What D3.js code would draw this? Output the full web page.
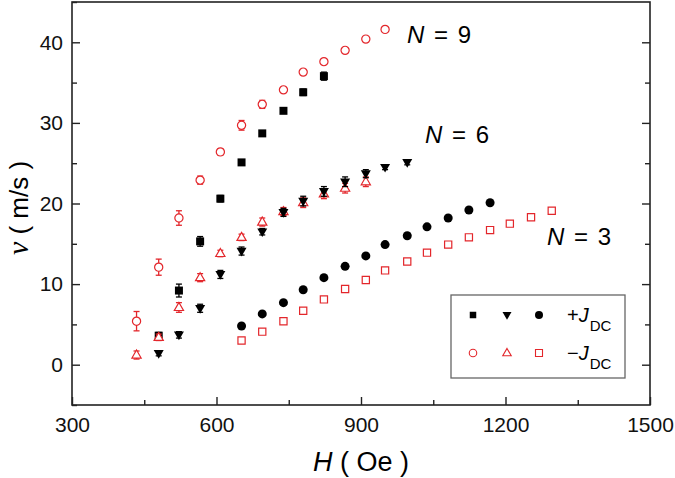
<!DOCTYPE html>
<html><head><meta charset="utf-8">
<script src="https://cdn.jsdelivr.net/npm/d3@7"></script>
<style>body{margin:0;background:#fff} svg{display:block}</style>
</head><body>
<svg id="c" width="675" height="478"></svg>
<script>
// ---- data ----
const fieldH = [434,480,522,566,608,652,695,739,780,823,867,910,950,996,1037,1081,1124,1168,1209,1253,1296];

const n9PlusV   = [3.6, 9.2, 15.3, 20.6, 25.1, 28.7, 31.5, 33.8, 35.8];
const n9PlusErr = [0.4, 0.8, 0.6, 0.4, 0.3, 0.3, 0.3, 0.4, 0.5];
const n9MinusV   = [5.4, 12.1, 18.2, 22.9, 26.4, 29.7, 32.3, 34.1, 36.3, 37.6, 39.0, 40.4, 41.6];
const n9MinusErr = [1.2, 1.0, 0.9, 0.5, 0.4, 0.6, 0.5, 0.3, 0.3, 0.3, 0.3, 0.2, 0.2];

const n6PlusV   = [1.4, 3.7, 7.0, 11.2, 14.1, 16.5, 18.9, 20.3, 21.5, 22.7, 23.7, 24.5, 25.1];
const n6PlusErr = [0.3, 0.4, 0.5, 0.5, 0.5, 0.4, 0.5, 0.6, 0.6, 0.6, 0.5, 0.3, 0.3];
const n6MinusV   = [1.2, 3.4, 7.1, 10.8, 13.8, 15.8, 17.7, 19.0, 20.1, 21.2, 21.9, 22.7];
const n6MinusErr = [0.5, 0.4, 0.6, 0.5, 0.4, 0.4, 0.5, 0.5, 0.6, 0.6, 0.6, 0.6];

const n3PlusV  = [4.8, 6.3, 7.7, 9.3, 10.8, 12.2, 13.5, 14.9, 16.0, 17.1, 18.2, 19.2, 20.1];
const n3MinusV = [3.0, 4.1, 5.4, 6.7, 8.1, 9.4, 10.5, 11.7, 12.8, 13.9, 14.9, 15.8, 16.7, 17.5, 18.3, 19.1];

const xTicks = [300, 600, 900, 1200, 1500];
const yTicks = [0, 10, 20, 30, 40];
const curveLabels = ["9", "6", "3"];
const legendLabels = ["+", "\u2212"];

// ---- styles ----
const RED = "#e3262b", BLACK = "#000";
const svg = d3.select("#c");
const x = d3.scaleLinear([300, 1500], [72, 650]);
const y = d3.scaleLinear([-5, 45], [405, 2]);

const series = [
  {H: fieldH.slice(1, 1 + n9PlusV.length), v: n9PlusV, err: n9PlusErr, shape: "square", fill: true, color: BLACK},
  {H: fieldH.slice(0, n9MinusV.length), v: n9MinusV, err: n9MinusErr, shape: "circle", fill: false, color: RED},
  {H: fieldH.slice(0, n6MinusV.length), v: n6MinusV, err: n6MinusErr, shape: "triUp", fill: false, color: RED},
  {H: fieldH.slice(1, 1 + n6PlusV.length), v: n6PlusV, err: n6PlusErr, shape: "triDown", fill: true, color: BLACK},
  {H: fieldH.slice(5, 5 + n3MinusV.length), v: n3MinusV, err: null, shape: "square", fill: false, color: RED},
  {H: fieldH.slice(5, 5 + n3PlusV.length), v: n3PlusV, err: null, shape: "circle", fill: true, color: BLACK},
];

function symPath(shape, s) {
  if (shape === "square") return d3.symbol(d3.symbolSquare, s * s)();
  if (shape === "circle") return d3.symbol(d3.symbolCircle, Math.PI * s * s / 4)();
  const h = s * 0.87, a = s / 2;
  if (shape === "triUp") return `M0,${-h*0.62}L${a},${h*0.38}L${-a},${h*0.38}Z`;
  return `M0,${h*0.62}L${a},${-h*0.38}L${-a},${-h*0.38}Z`;
}
const sizeOf = {square: 8, circle: 9, triUp: 10, triDown: 10};

// frame
svg.append("rect").attr("x", 72).attr("y", 2).attr("width", 650 - 72).attr("height", 405 - 2)
  .attr("fill", "none").attr("stroke", "#222").attr("stroke-width", 1.6);

// axes
const fontTick = "'Liberation Sans', Arial, sans-serif";
const gx = svg.append("g").attr("transform", "translate(0,405)")
  .call(d3.axisBottom(x).tickValues(xTicks).tickSizeInner(-8).tickSizeOuter(0).tickPadding(12).tickFormat(d3.format("d")));
const gxm = svg.append("g").attr("transform", "translate(0,405)")
  .call(d3.axisBottom(x).tickValues([450, 750, 1050, 1350]).tickSizeInner(-5).tickSizeOuter(0).tickFormat(""));
const gy = svg.append("g").attr("transform", "translate(72,0)")
  .call(d3.axisLeft(y).tickValues(yTicks).tickSizeInner(-8).tickSizeOuter(0).tickPadding(9));
const gym = svg.append("g").attr("transform", "translate(72,0)")
  .call(d3.axisLeft(y).tickValues([-5, 5, 15, 25, 35, 45]).tickSizeInner(-5).tickSizeOuter(0).tickFormat(""));
const gr = svg.append("g").attr("transform", "translate(650,0)")
  .call(d3.axisLeft(y).tickValues(yTicks).tickSizeInner(8).tickSizeOuter(0).tickFormat(""));
const grm = svg.append("g").attr("transform", "translate(650,0)")
  .call(d3.axisLeft(y).tickValues([5, 15, 25, 35]).tickSizeInner(5).tickSizeOuter(0).tickFormat(""));
[gx, gxm, gy, gym, gr, grm].forEach(g => {
  g.select(".domain").remove();
  g.selectAll("line").attr("stroke", "#222").attr("stroke-width", 1.4);
  g.selectAll("text").attr("font-family", fontTick).attr("font-size", 21).attr("fill", "#111");
});
gx.selectAll("text").attr("dy", "0.71em");

// data
const plot = svg.append("g");
series.forEach(s => {
  const g = plot.append("g");
  const pts = s.H.map((h, i) => ({h, v: s.v[i], e: s.err ? s.err[i] : 0}));
  if (s.err) {
    const eb = g.selectAll("g.eb").data(pts).join("g").attr("class", "eb")
      .attr("stroke", s.color).attr("stroke-width", 1.3);
    eb.append("line").attr("x1", d => x(d.h)).attr("x2", d => x(d.h))
      .attr("y1", d => y(d.v - d.e)).attr("y2", d => y(d.v + d.e));
    eb.append("line").attr("x1", d => x(d.h) - 3).attr("x2", d => x(d.h) + 3)
      .attr("y1", d => y(d.v - d.e)).attr("y2", d => y(d.v - d.e));
    eb.append("line").attr("x1", d => x(d.h) - 3).attr("x2", d => x(d.h) + 3)
      .attr("y1", d => y(d.v + d.e)).attr("y2", d => y(d.v + d.e));
  }
  g.selectAll("path.m").data(pts).join("path").attr("class", "m")
    .attr("transform", d => `translate(${x(d.h)},${y(d.v)})`)
    .attr("d", symPath(s.shape, s.fill ? sizeOf[s.shape] : sizeOf[s.shape] - 0.8))
    .attr("fill", s.fill ? s.color : "#fff")
    .attr("stroke", s.color).attr("stroke-width", s.fill ? 0 : 1.2);
});

// curve labels
const labelPos = [[407, 43], [425, 143], [547, 245]];
curveLabels.forEach((c, i) => {
  const t = svg.append("text").attr("x", labelPos[i][0]).attr("y", labelPos[i][1])
    .attr("font-family", fontTick).attr("font-size", 24).attr("textLength", 64).attr("lengthAdjust", "spacing");
  t.append("tspan").attr("font-style", "italic").text("N");
  t.append("tspan").text(" = " + c);
});

// axis titles
const xt = svg.append("text").attr("x", 361).attr("y", 471).attr("text-anchor", "middle")
  .attr("font-family", fontTick).attr("font-size", 27);
xt.append("tspan").attr("font-style", "italic").text("H");
xt.append("tspan").text(" ( Oe )");

const yt = svg.append("text").attr("transform", "translate(28,208) rotate(-90)").attr("text-anchor", "middle")
  .attr("font-family", fontTick).attr("font-size", 26);
yt.append("tspan").attr("font-family", "'Liberation Serif', 'Times New Roman', serif").attr("font-style", "italic").attr("font-size", 30).text("v");
yt.append("tspan").text(" ( m/s )");

// legend
const lg = svg.append("g");
lg.append("rect").attr("x", 451).attr("y", 295).attr("width", 174).attr("height", 83)
  .attr("fill", "#fff").attr("stroke", "#666").attr("stroke-width", 1.3);
const legRows = [
  {y: 315, items: [{shape: "square", s: 6.5}, {shape: "triDown", s: 9}, {shape: "circle", s: 8}], fill: true, color: BLACK},
  {y: 353, items: [{shape: "circle", s: 7.5}, {shape: "triUp", s: 8.5}, {shape: "square", s: 7}], fill: false, color: RED},
];
const legX = [473, 507, 539];
legRows.forEach((r, ri) => {
  r.items.forEach((it, j) => {
    lg.append("path").attr("transform", `translate(${legX[j]},${r.y})`)
      .attr("d", symPath(it.shape, it.s))
      .attr("fill", r.fill ? r.color : "#fff").attr("stroke", r.color).attr("stroke-width", r.fill ? 0 : 1.1);
  });
  const t = lg.append("text").attr("x", 567).attr("y", r.y + 7).attr("font-family", fontTick).attr("font-size", 20);
  t.append("tspan").text(legendLabels[ri]);
  t.append("tspan").attr("font-style", "italic").text("J");
  t.append("tspan").attr("font-size", 15).attr("dy", 9).attr("dx", 1).text("DC");
});
</script>
</body></html>
